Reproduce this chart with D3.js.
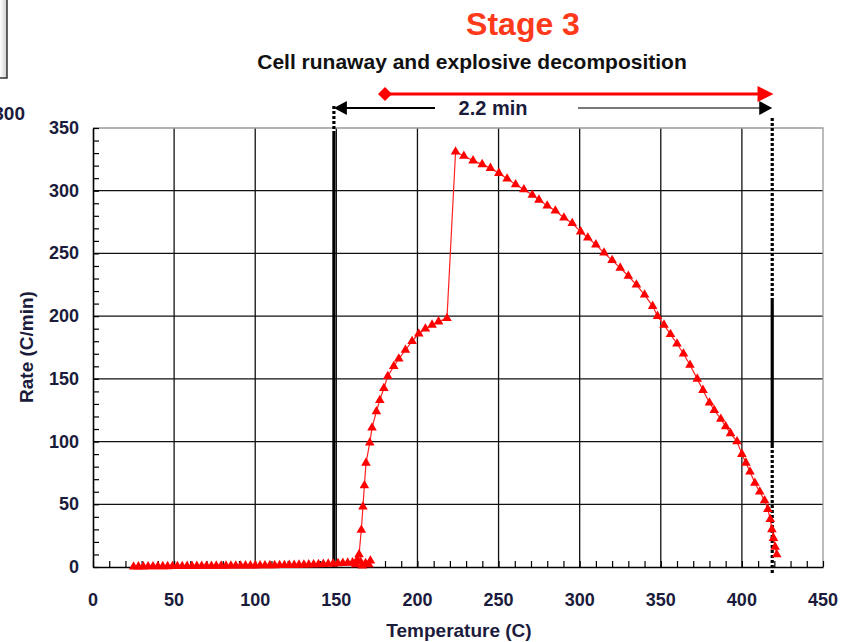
<!DOCTYPE html>
<html>
<head>
<meta charset="utf-8">
<script src="https://cdn.jsdelivr.net/npm/d3@7"></script>
<style>
  body { margin: 0; background: #fff; }
  svg { display: block; font-family: "Liberation Sans", Arial, sans-serif; }
</style>
</head>
<body>
<svg id="chart" width="855" height="642"></svg>
<script>
// temperature (C) and self-heating rate (C/min)
const temps = [
  25, 28, 31, 34, 37, 40, 43, 46, 49, 52, 55, 58, 61, 64, 67, 70, 73, 76, 79, 82,
  85, 88, 91, 94, 97, 100, 103, 106, 109, 112, 115, 118, 121, 124, 127, 130, 133, 136, 139, 142,
  145, 148, 151, 154, 157, 160, 162, 165, 168, 171, 170, 166, 163, 164,
  165.4, 166.4, 167.3, 168.3, 170.6, 172, 174.7, 176.8, 179.3, 181.7, 185.4, 188.5, 192.6, 196.7, 200.8, 204.9,
  209, 213, 218.2, 223.5, 228.6, 234.3, 239.9, 245, 250.2, 255.3, 260.5, 265.6, 270.8, 274.9, 280, 285,
  290.3, 295.4, 300.6, 305, 310, 315, 320, 325, 330, 335, 340, 345, 348, 352, 356, 360, 364, 368,
  372.5, 376, 380, 383, 387, 390, 393, 397, 400, 402.5, 405, 408, 411, 414, 416, 417.5, 418.5, 419.5, 420.5, 421.5
];
const rates = [
  0.2, 0.3, 0.3, 0.4, 0.4, 0.5, 0.5, 0.5, 0.6, 0.6, 0.6, 0.7, 0.7, 0.7, 0.8, 0.8, 0.8, 0.9, 0.9, 0.9,
  1.0, 1.0, 1.0, 1.1, 1.1, 1.1, 1.2, 1.2, 1.3, 1.3, 1.4, 1.4, 1.5, 1.6, 1.7, 1.8, 1.9, 2.0, 2.1, 2.3,
  2.5, 2.7, 2.9, 3.1, 3.3, 3.5, 2, 4, 3, 5, 2, 1, 6, 10,
  29.5, 48, 65, 83, 99, 111, 124, 133, 142.5, 152, 160, 166, 173, 180, 186, 190,
  193, 195.6, 198.3, 331, 327.7, 324, 321, 318, 314, 309.5, 305, 301, 296.6, 292.7, 288, 284,
  278.5, 274, 267.4, 262.5, 257, 250.5, 244.5, 238.5, 232, 225, 217, 208, 200, 193, 185.5, 178, 170, 161,
  150, 141, 131, 125, 118, 112, 106.5, 100, 90, 83, 76, 67, 60, 53, 46, 38, 30, 23, 16, 10
];

const xTicks = [0, 50, 100, 150, 200, 250, 300, 350, 400, 450];
const yTicks = [0, 50, 100, 150, 200, 250, 300, 350];

const title = 'Stage 3';
const subtitle = 'Cell runaway and explosive decomposition';
const spanLabel = '2.2 min';
const spanStart = 148.5, spanEnd = 418.7;   // the two vertical markers
const stageStart = 180, stageEnd = 419.5;   // red arrow

const svg = d3.select('#chart');
const pLeft = 93, pRight = 823, pTop = 128, pBottom = 567;

const x = d3.scaleLinear().domain([0, 450]).range([pLeft, pRight]);
const y = d3.scaleLinear().domain([0, 350]).range([pBottom, pTop]);

const labelColor = '#1b1b3c';

// leftover bits of the neighbouring figure
const grad = svg.append('defs').append('linearGradient').attr('id', 'fade')
  .attr('x1', 0).attr('x2', 1);
grad.append('stop').attr('offset', 0).attr('stop-color', '#fff');
grad.append('stop').attr('offset', 1).attr('stop-color', '#ccc');
svg.append('rect').attr('x', 0).attr('y', 0).attr('width', 7).attr('height', 78).attr('fill', 'url(#fade)');
svg.append('path').attr('d', 'M0,78H7V0').attr('fill', 'none').attr('stroke', '#333').attr('stroke-width', 1.5);
svg.append('text').attr('x', 25).attr('y', 120).attr('text-anchor', 'end')
  .attr('font-size', 19).attr('font-weight', 'bold').attr('fill', labelColor).text('300');

// grid
const grid = svg.append('g');
grid.selectAll('line.v').data(xTicks.filter(d => d > 0 && d < 450)).enter().append('line')
  .attr('x1', d => x(d)).attr('x2', d => x(d)).attr('y1', pTop).attr('y2', pBottom)
  .attr('stroke', '#111').attr('stroke-width', 1.3);
grid.selectAll('line.h').data(yTicks.filter(d => d > 0 && d < 350)).enter().append('line')
  .attr('x1', pLeft).attr('x2', pRight).attr('y1', d => y(d)).attr('y2', d => y(d))
  .attr('stroke', '#111').attr('stroke-width', 1.3);

// frame: grey top/right
svg.append('path').attr('d', `M${pLeft},${pTop}H${pRight}V${pBottom}`)
  .attr('fill', 'none').attr('stroke', '#999').attr('stroke-width', 1.3);

// axes with inward minor ticks
const xAxis = svg.append('g').attr('transform', `translate(0,${pBottom})`)
  .call(d3.axisBottom(x).tickValues(d3.range(0, 451, 10)).tickSize(-6).tickSizeOuter(0).tickFormat(''));
const yAxis = svg.append('g').attr('transform', `translate(${pLeft},0)`)
  .call(d3.axisLeft(y).tickValues(d3.range(0, 351, 10)).tickSize(-6).tickSizeOuter(0).tickFormat(''));
[xAxis, yAxis].forEach(a => {
  a.select('.domain').attr('stroke', '#000').attr('stroke-width', 1.6);
  a.selectAll('.tick line').attr('stroke', '#000').attr('stroke-width', 1.2);
});

svg.append('g').selectAll('text').data(xTicks).enter().append('text')
  .attr('x', d => x(d)).attr('y', 606).attr('text-anchor', 'middle')
  .attr('font-size', 18).attr('font-weight', 'bold').attr('fill', labelColor).text(d => d);
svg.append('g').selectAll('text').data(yTicks).enter().append('text')
  .attr('x', 79).attr('y', d => y(d) + 6).attr('text-anchor', 'end')
  .attr('font-size', 18).attr('font-weight', 'bold').attr('fill', labelColor).text(d => d);

svg.append('text').attr('x', 459).attr('y', 637).attr('text-anchor', 'middle')
  .attr('font-size', 19).attr('font-weight', 'bold').attr('fill', labelColor).text('Temperature (C)');
svg.append('text').attr('transform', 'translate(33,347) rotate(-90)').attr('text-anchor', 'middle')
  .attr('font-size', 19).attr('font-weight', 'bold').attr('fill', labelColor).text('Rate (C/min)');

// vertical markers
function vseg(t, y1, y2, dotted) {
  svg.append('line').attr('x1', x(t)).attr('x2', x(t)).attr('y1', y1).attr('y2', y2)
    .attr('stroke', '#000').attr('stroke-width', 3.2)
    .attr('stroke-dasharray', dotted ? '3,2' : null);
}
vseg(spanStart, 106, 132, true);
vseg(spanStart, 132, pBottom, false);
vseg(spanEnd, 118, 300, true);
vseg(spanEnd, 300, 445, false);
vseg(spanEnd, 445, 575, true);

// data series
const pts = temps.map((t, i) => [t, rates[i]]);
svg.append('path').datum(pts)
  .attr('d', d3.line().x(d => x(d[0])).y(d => y(d[1])))
  .attr('fill', 'none').attr('stroke', '#ff2020').attr('stroke-width', 1.2);
svg.append('g').selectAll('path').data(pts).enter().append('path')
  .attr('transform', d => `translate(${x(d[0])},${y(d[1])})`)
  .attr('d', d3.symbol(d3.symbolTriangle, 40))
  .attr('fill', '#ff0000');

// titles
svg.append('text').attr('x', 523).attr('y', 35).attr('text-anchor', 'middle')
  .attr('font-size', 32).attr('font-weight', 'bold').attr('fill', '#ff3a1a').text(title);
svg.append('text').attr('x', 472).attr('y', 69).attr('text-anchor', 'middle')
  .attr('font-size', 21).attr('font-weight', 'bold').attr('fill', '#111').text(subtitle);

// red stage arrow
const ry = 94;
svg.append('line').attr('x1', x(stageStart)).attr('x2', x(stageEnd) - 12).attr('y1', ry).attr('y2', ry)
  .attr('stroke', '#ff0000').attr('stroke-width', 3);
svg.append('path').attr('transform', `translate(${x(stageStart)},${ry})`)
  .attr('d', 'M-7,0L0,-7L7,0L0,7Z').attr('fill', '#ff0000');
svg.append('path').attr('transform', `translate(${x(stageEnd)},${ry})`)
  .attr('d', 'M0,0L-16,-8L-16,8Z').attr('fill', '#ff0000');

// black span arrow
const by = 108;
svg.append('line').attr('x1', 435).attr('x2', x(spanStart) + 10).attr('y1', by).attr('y2', by)
  .attr('stroke', '#000').attr('stroke-width', 1.8);
svg.append('path').attr('transform', `translate(${x(spanStart)},${by})`)
  .attr('d', 'M0,0L13,-7L13,7Z').attr('fill', '#000');
svg.append('line').attr('x1', 578).attr('x2', x(spanEnd) - 10).attr('y1', by).attr('y2', by)
  .attr('stroke', '#777').attr('stroke-width', 2);
svg.append('path').attr('transform', `translate(${x(spanEnd)},${by})`)
  .attr('d', 'M0,0L-13,-7L-13,7Z').attr('fill', '#000');
svg.append('text').attr('x', 493).attr('y', 115).attr('text-anchor', 'middle')
  .attr('font-size', 20).attr('font-weight', 'bold').attr('fill', labelColor).text(spanLabel);
</script>
</body>
</html>
